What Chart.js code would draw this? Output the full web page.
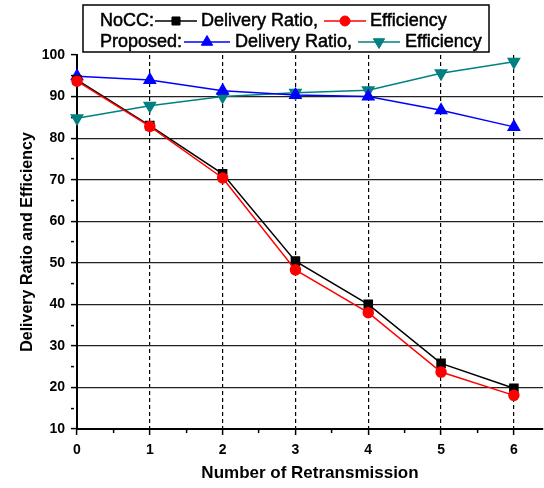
<!DOCTYPE html>
<html>
<head>
<meta charset="utf-8">
<script src="https://cdn.jsdelivr.net/npm/chart.js@4.4.1/dist/chart.umd.min.js"></script>
<style>
  html, body { margin: 0; padding: 0; background: #fff; }
  #wrap { width: 544px; height: 488px; }
</style>
</head>
<body>
<div id="wrap"><canvas id="mycanvas" width="544" height="488"></canvas></div>
<script>
// x values (number of retransmission)
var retrans = [0, 1, 2, 3, 4, 5, 6];

// NoCC
var noccDelivery = [94.0, 83.0, 71.4, 50.4, 40.0, 25.8, 19.8];
var noccEfficiency = [93.7, 82.8, 70.4, 48.3, 38.0, 23.7, 18.1];

// Proposed
var propDelivery = [94.9, 94.0, 91.4, 90.4, 90.0, 86.7, 82.7];
var propEfficiency = [84.8, 87.8, 90.0, 90.9, 91.5, 95.6, 98.4];

var yTicks = [10, 20, 30, 40, 50, 60, 70, 80, 90, 100];
var xTicks = [0, 1, 2, 3, 4, 5, 6];

function pts(arr) {
  var out = [];
  for (var i in arr) out.push({x: retrans[i], y: arr[i]});
  return out;
}

// legend rows drawn by hand, the built-in legend can't do this layout
var legendRows = [
  {label: "NoCC:", y: 21, items: [
    {ds: 1, x1: 155, x2: 197, text: "Delivery Ratio,", tx: 201},
    {ds: 0, x1: 324, x2: 366, text: "Efficiency", tx: 370}
  ]},
  {label: "Proposed:", y: 42, items: [
    {ds: 2, x1: 184, x2: 230, text: "Delivery Ratio,", tx: 235},
    {ds: 3, x1: 358, x2: 400, text: "Efficiency", tx: 405}
  ]}
];

function boldText(c, s, x, y) {
  c.fillText(s, x, y);
  c.strokeText(s, x, y);
}

var legendPlugin = {
  id: 'boxLegend',
  afterDraw: function(chart) {
    var c = chart.ctx;
    c.save();
    c.fillStyle = '#fff';
    c.fillRect(83, 5, 406, 47);
    c.strokeStyle = '#000';
    c.lineWidth = 1.5;
    c.strokeRect(83, 5, 406, 47);
    c.font = '18px "Liberation Sans", Arial, sans-serif';
    c.textBaseline = 'middle';
    legendRows.forEach(function(row) {
      c.fillStyle = '#000';
      c.strokeStyle = '#000';
      c.lineWidth = 0.5;
      boldText(c, row.label, 100, row.y);
      row.items.forEach(function(it) {
        var ds = chart.data.datasets[it.ds];
        c.strokeStyle = ds.borderColor;
        c.lineWidth = 1.5;
        c.beginPath();
        c.moveTo(it.x1, row.y);
        c.lineTo(it.x2, row.y);
        c.stroke();
        c.fillStyle = ds.pointBackgroundColor;
        c.lineWidth = 1;
        Chart.helpers.drawPoint(c, {
          pointStyle: ds.pointStyle,
          radius: ds.pointRadius,
          rotation: ds.pointRotation || 0,
          borderWidth: 1
        }, (it.x1 + it.x2) / 2, row.y);
        c.fillStyle = '#000';
        c.strokeStyle = '#000';
        c.lineWidth = 0.5;
        boldText(c, it.text, it.tx, row.y);
      });
    });
    c.restore();
  }
};

var ctx = document.getElementById('mycanvas');

var chartdata = {
  datasets: [
    {
      label: "NoCC Efficiency",
      data: pts(noccEfficiency),
      borderColor: "#ff0000",
      backgroundColor: "#ff0000",
      pointBackgroundColor: "#ff0000",
      pointStyle: 'circle',
      pointRadius: 5,
      borderWidth: 1.5
    },
    {
      label: "NoCC Delivery Ratio",
      data: pts(noccDelivery),
      borderColor: "#000000",
      backgroundColor: "#000000",
      pointBackgroundColor: "#000000",
      pointStyle: 'rect',
      pointRadius: 5.7,
      borderWidth: 1.5
    },
    {
      label: "Proposed Delivery Ratio",
      data: pts(propDelivery),
      borderColor: "#0000ff",
      backgroundColor: "#0000ff",
      pointBackgroundColor: "#0000ff",
      pointStyle: 'triangle',
      pointRadius: 6.5,
      borderWidth: 1.5
    },
    {
      label: "Proposed Efficiency",
      data: pts(propEfficiency),
      borderColor: "#008080",
      backgroundColor: "#008080",
      pointBackgroundColor: "#008080",
      pointStyle: 'triangle',
      pointRotation: 180,
      pointRadius: 6.5,
      borderWidth: 1.5
    }
  ]
};

function isMajor(v, step) {
  return Math.abs(v / step - Math.round(v / step)) < 1e-6;
}

var LineGraph = new Chart(ctx, {
  type: 'line',
  data: chartdata,
  plugins: [legendPlugin],
  options: {
    responsive: false,
    animation: false,
    clip: false,
    layout: { autoPadding: false, padding: { top: 55, right: 1, left: 0, bottom: 0 } },
    plugins: { legend: { display: false }, tooltip: { enabled: false } },
    elements: { line: { tension: 0 }, point: { borderWidth: 1, hoverRadius: 5 } },
    scales: {
      x: {
        type: 'linear',
        min: 0,
        max: 6.4,
        afterBuildTicks: function(scale) {
          var t = [];
          for (var v = 0; v <= 6; v += 0.5) t.push({value: v});
          scale.ticks = t;
        },
        afterFit: function(scale) {
          scale.height = 59;
          scale.paddingLeft = 0;
          scale.paddingRight = 0;
        },
        ticks: {
          color: '#000',
          font: { family: '"Liberation Sans", Arial, sans-serif', size: 14, weight: 'bold' },
          padding: 7,
          maxRotation: 0,
          autoSkip: false,
          callback: function(v) { return xTicks.indexOf(v) >= 0 ? String(v) : ''; }
        },
        grid: {
          color: function(c) {
            if (!c.tick) return '#000';
            return (isMajor(c.tick.value, 1) && c.tick.value > 0) ? '#000' : 'rgba(0,0,0,0)';
          },
          tickColor: '#000',
          tickLength: 6,
          lineWidth: 1.2,
          tickWidth: 1.5,
          tickBorderDash: function(c) {
            return (c.tick && isMajor(c.tick.value, 1)) ? [] : [3, 20];
          }
        },
        border: {
          color: '#000',
          width: 2,
          dash: function(c) { return [4, 3]; }
        },
        title: {
          display: true,
          text: 'Number of Retransmission',
          color: '#000',
          font: { family: '"Liberation Sans", Arial, sans-serif', size: 17, weight: 'bold' },
          padding: { top: 0, bottom: 4 }
        }
      },
      y: {
        type: 'linear',
        min: 10,
        max: 100,
        afterBuildTicks: function(scale) {
          var t = [];
          for (var v = 10; v <= 100; v += 5) t.push({value: v});
          scale.ticks = t;
        },
        afterFit: function(scale) { scale.width = 77; },
        ticks: {
          color: '#000',
          font: { family: '"Liberation Sans", Arial, sans-serif', size: 14, weight: 'bold' },
          padding: 6,
          autoSkip: false,
          callback: function(v) { return yTicks.indexOf(v) >= 0 ? String(v) : ''; }
        },
        grid: {
          color: function(c) {
            if (!c.tick) return '#000';
            var v = c.tick.value;
            return (isMajor(v, 10) && v > 10 && v < 100) ? '#222' : 'rgba(0,0,0,0)';
          },
          tickColor: '#000',
          tickLength: 6,
          lineWidth: 1.2,
          tickWidth: 1.5,
          tickBorderDash: function(c) {
            return (c.tick && isMajor(c.tick.value, 10)) ? [] : [3, 20];
          }
        },
        border: { color: '#000', width: 2 },
        title: {
          display: true,
          text: 'Delivery Ratio and Efficiency',
          color: '#000',
          font: { family: '"Liberation Sans", Arial, sans-serif', size: 16, weight: 'bold' },
          padding: { top: 18, bottom: 0 }
        }
      }
    }
  }
});
</script>
</body>
</html>
